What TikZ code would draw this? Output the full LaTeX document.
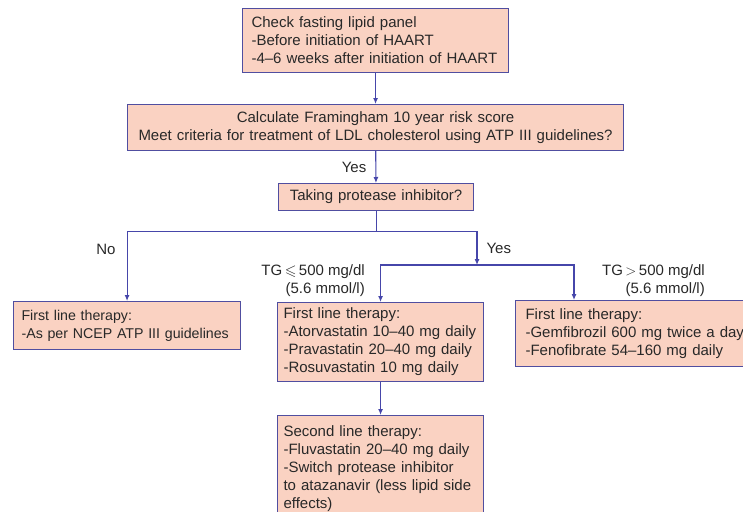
\documentclass[tikz,border=0pt]{standalone}
\usepackage{amsmath,amssymb}
\usepackage{fontspec}
\setmainfont{Liberation Sans}
\usetikzlibrary{positioning}
\usetikzlibrary{arrows.meta}
\definecolor{boxfill}{RGB}{250,210,194}
\definecolor{boxline}{RGB}{80,78,160}
\definecolor{flowline}{RGB}{70,70,170}
\definecolor{ink}{RGB}{40,40,40}

\tikzset{
 box/.style={draw=boxline,fill=boxfill,line width=1.1pt,inner xsep=8pt,inner ysep=0pt,
  align=left,anchor=north west,text=ink,font=\fontsize{15}{18}\selectfont},
 cbox/.style={box,align=center},
 arr/.style={draw=flowline,line width=1.1pt,-{Latex[length=6pt,width=5pt]}},
 lbl/.style={font=\fontsize{15}{18}\selectfont,text=ink,inner sep=1pt}
}

\begin{document}
\begin{tikzpicture}[x=1pt,y=-1pt]
 \useasboundingbox (0,0) rectangle (743,511);
 \clip (0,0) rectangle (743,511);
 % boxes
 \node[box,inner xsep=9pt,text width=248pt,minimum height=64pt] (check) at (242,8)
  {Check fasting lipid panel\\-Before initiation of HAART\\-4--6 weeks after initiation of HAART};
 \node[cbox,text width=480pt,minimum height=46pt] (risk) at (127,104)
  {Calculate Framingham 10 year risk score\\Meet criteria for treatment of LDL cholesterol using ATP III guidelines?};
 \node[cbox,text width=179pt,minimum height=27pt] (pi) at (278,183)
  {Taking protease inhibitor?};
 \node[box,font=\fontsize{14.2}{18}\selectfont,text width=211pt,minimum height=48pt] (ncep) at (13,301)
  {First line therapy:\\-As per NCEP ATP III guidelines};
 \node[box,inner xsep=6pt,text width=194pt,minimum height=79pt] (statin) at (277,302)
  {First line therapy:\\-Atorvastatin 10--40 mg daily\\-Pravastatin 20--40 mg daily\\-Rosuvastatin 10 mg daily};
 \node[box,inner xsep=10pt,text width=220pt,minimum height=66pt] (fibrate) at (515,300)
  {First line therapy:\\-Gemfibrozil 600 mg twice a day\\-Fenofibrate 54--160 mg daily};
 \node[box,inner xsep=6pt,text width=194pt,minimum height=106pt] (second) at (277,415)
  {Second line therapy:\\-Fluvastatin 20--40 mg daily\\-Switch protease inhibitor\\to atazanavir (less lipid side\\effects)};
 % TG labels
 \node[lbl,align=right,anchor=east] (tgle) at (366,281) {TG\,$\leqslant$\,500 mg/dl\\(5.6 mmol/l)};
 \node[lbl,align=right,anchor=east] (tggt) at (706,281) {TG\,$>$\,500 mg/dl\\(5.6 mmol/l)};
 % connectors
 \draw[arr] (check) -- (risk);
 \draw[arr] (risk) -- node[lbl,left=8pt] {Yes} (pi);
 \draw[draw=flowline,line width=1.1pt] (pi.south) -- ++(0,20) coordinate (split);
 \coordinate (ybr) at (477,265);
 \draw[arr] (split) -| node[lbl,left=10pt,pos=0.63] {No} (ncep.north);
 \draw[arr] (split) -| node[lbl,right=8pt,pos=0.75] {Yes} (ybr);
 \draw[arr] (ybr) -| (statin.north);
 \draw[arr] (ybr) -| ([xshift=59pt]fibrate.north west);
 \draw[arr] (statin) -- (second);
\end{tikzpicture}
\end{document}
